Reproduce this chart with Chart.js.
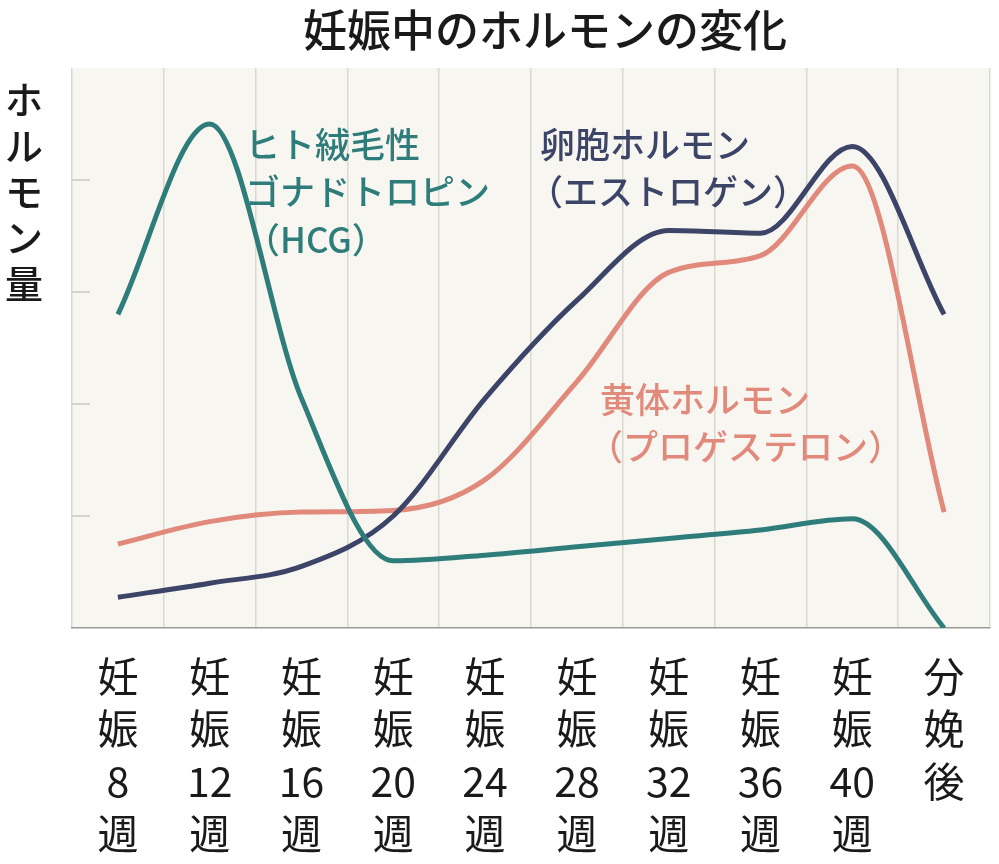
<!DOCTYPE html>
<html>
<head>
<meta charset="utf-8">
<script src="https://cdn.jsdelivr.net/npm/chart.js@4"></script>
<style>
  html, body { margin: 0; padding: 0; background: #ffffff; }
  #wrap { width: 999px; height: 864px; }
</style>
</head>
<body>
<div id="wrap"><canvas id="hormoneChart" width="999" height="864"></canvas></div>
<script>
// === Data ===
const weeks = [['妊','娠','8','週'], ['妊','娠','12','週'], ['妊','娠','16','週'], ['妊','娠','20','週'],
    ['妊','娠','24','週'], ['妊','娠','28','週'], ['妊','娠','32','週'], ['妊','娠','36','週'],
    ['妊','娠','40','週'], ['分','娩','後']];
const hcgValues = [56, 90, 41, 12, 13, 14.5, 16, 17.5, 19.5, 0];
const estrogenValues = [5.5, 8, 11, 20, 41, 58.5, 71, 70.5, 86, 56];
const progesteroneValues = [15, 19, 20.7, 21, 26.5, 44, 63.5, 66.5, 82.5, 20.7];
const yTicks = [20, 40, 60, 80];

const FONT = '"Noto Sans CJK JP", "Noto Sans", sans-serif';
const TEAL = '#2f7d7b';
const NAVY = '#3c4467';
const SALMON = '#e18a7b';

// === Plugin: background, title, y label, annotations ===
const decorPlugin = {
    id: 'decor',
    beforeDraw(chart) {
        const { ctx, chartArea: a } = chart;
        ctx.save();
        ctx.fillStyle = '#f7f6f1';
        ctx.fillRect(a.left, a.top, a.right - a.left, a.bottom - a.top);
        ctx.restore();
    },
    afterDraw(chart) {
        const { ctx, chartArea: a, scales } = chart;
        ctx.save();
        // y tick marks inside plot
        ctx.strokeStyle = '#c9c9c2';
        ctx.lineWidth = 1.5;
        yTicks.forEach(v => {
            const y = scales.y.getPixelForValue(v);
            ctx.beginPath();
            ctx.moveTo(a.left, y);
            ctx.lineTo(a.left + 18, y);
            ctx.stroke();
        });
        // title
        ctx.fillStyle = '#1a1a1a';
        ctx.font = '500 44px ' + FONT;
        ctx.textAlign = 'center';
        ctx.textBaseline = 'middle';
        ctx.fillText('妊娠中のホルモンの変化', 545, 30);
        // y axis label (stacked)
        ctx.font = '500 38px ' + FONT;
        ['ホ', 'ル', 'モ', 'ン', '量'].forEach((c, i) => ctx.fillText(c, 24, 100 + i * 46));
        // annotations
        ctx.textAlign = 'left';
        ctx.font = '500 35px ' + FONT;
        ctx.fillStyle = TEAL;
        ctx.fillText('ヒト絨毛性', 245, 145);
        ctx.fillText('ゴナドトロピン', 245, 192);
        ctx.fillText('（HCG）', 245, 240);
        ctx.fillStyle = NAVY;
        ctx.fillText('卵胞ホルモン', 540, 145);
        ctx.fillText('（エストロゲン）', 528, 192);
        ctx.fillStyle = SALMON;
        ctx.fillText('黄体ホルモン', 600, 400);
        ctx.fillText('（プロゲステロン）', 588, 447);
        ctx.restore();
    }
};

function lineSet(label, data, color) {
    return {
        label: label,
        data: data,
        borderColor: color,
        borderWidth: 5,
        pointRadius: 0,
        tension: 0.4,
        cubicInterpolationMode: 'monotone',
        fill: false
    };
}

// === Chart ===
const ctx = document.getElementById('hormoneChart').getContext('2d');
new Chart(ctx, {
    type: 'line',
    data: {
        labels: weeks,
        datasets: [
            lineSet('HCG', hcgValues, TEAL),
            lineSet('エストロゲン', estrogenValues, NAVY),
            lineSet('プロゲステロン', progesteroneValues, SALMON)
        ]
    },
    options: {
        responsive: false,
        animation: false,
        layout: { padding: { top: 68, right: 9, left: 0, bottom: 0 } },
        scales: {
            x: {
                offset: true,
                grid: { offset: true, color: '#d9d9d2', lineWidth: 1.5, drawTicks: false },
                border: { color: '#9a9a94', width: 1.5 },
                ticks: {
                    color: '#1a1a1a',
                    font: { family: FONT, size: 41, lineHeight: 1.28 },
                    maxRotation: 0,
                    autoSkip: false,
                    padding: 22
                },
                afterFit(scale) { scale.height = 236; }
            },
            y: {
                min: 0,
                max: 100,
                grid: { display: false },
                border: { display: false },
                ticks: { display: false, stepSize: 20 },
                afterFit(scale) { scale.width = 72; }
            }
        },
        plugins: {
            legend: { display: false },
            tooltip: { enabled: false }
        }
    },
    plugins: [decorPlugin]
});
</script>
</body>
</html>
